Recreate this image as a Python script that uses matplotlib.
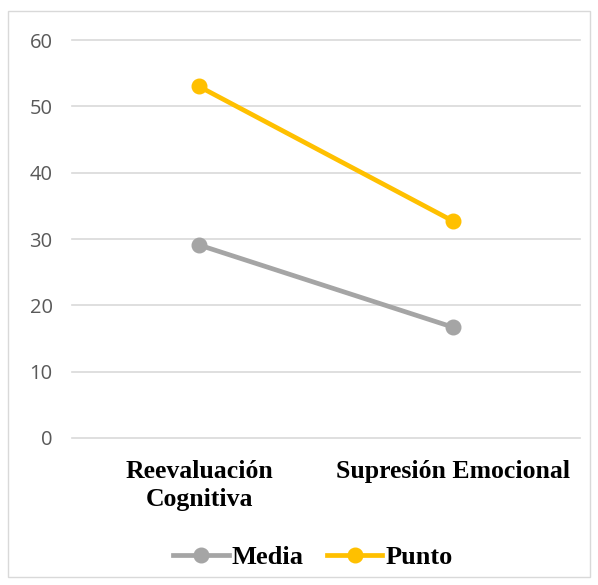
import matplotlib.pyplot as plt
from matplotlib.patches import Rectangle

categorias = ['Reevaluación\nCognitiva', 'Supresión Emocional']
media = [29.1, 16.7]
punto = [53.0, 32.7]
yticks = [0, 10, 20, 30, 40, 50, 60]

fig = plt.figure(figsize=(5.98, 5.85), dpi=100)
ax = fig.add_axes([0.1204, 0.2513, 0.8496, 0.6803])

# light border around the whole chart
fig.patches.append(Rectangle((8 / 598, 8 / 585), 582 / 598, 566 / 585,
                             transform=fig.transFigure, fill=False,
                             edgecolor='#D9D9D9', linewidth=1))

x = range(len(categorias))
ax.plot(x, media, color='#A5A5A5', linewidth=3.4, marker='o', markersize=10.5, label='Media')
ax.plot(x, punto, color='#FFC000', linewidth=3.4, marker='o', markersize=10.5, label='Punto')

ax.set_xlim(-0.5, 1.5)
ax.set_ylim(0, 60)
ax.set_yticks(yticks)
ax.set_xticks(list(x))
ax.set_xticklabels(categorias, fontfamily='Liberation Serif', fontweight='bold',
                   fontsize=18.5, color='black', linespacing=1.25)
ax.tick_params(axis='y', labelsize=14.5, labelcolor='#595959', length=0, pad=14)
ax.tick_params(axis='x', length=0, pad=16)
for lab in ax.get_yticklabels():
    lab.set_fontfamily('Open Sans')

ax.grid(axis='y', color='#D9D9D9', linewidth=1.2)
for gl in ax.get_ygridlines():
    gl.set_clip_on(False)
ax.set_axisbelow(True)
for s in ax.spines.values():
    s.set_visible(False)

leg = ax.legend(loc='center', bbox_to_anchor=(0.474, -0.30), ncol=2, frameon=False,
                prop={'family': 'Liberation Serif', 'weight': 'bold', 'size': 19},
                handlelength=2.1, handletextpad=0.1, columnspacing=0.9)

fig.savefig('out.png', dpi=100)
